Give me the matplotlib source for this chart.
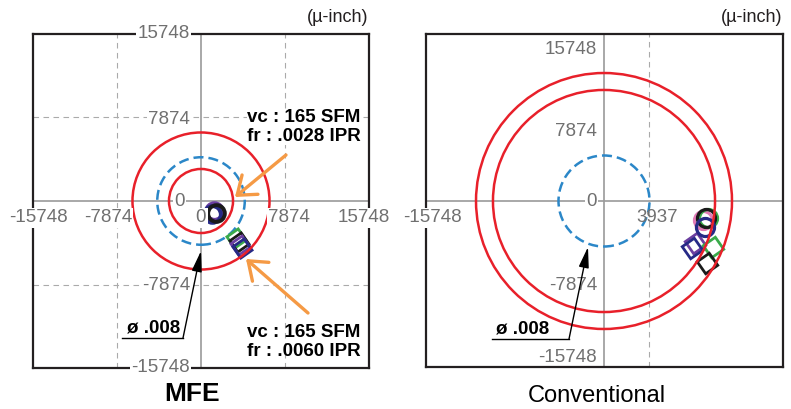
import matplotlib
matplotlib.use("Agg")
import matplotlib.pyplot as plt
from matplotlib.patches import Circle

plt.rcParams['font.family'] = ['Liberation Sans', 'DejaVu Sans']

W, H = 791, 409

# ---- data (micro-inch) ----
mfe_tol_r = 4100
mfe_red_r = [3000, 6420]
mfe_ring_x = [1218, 1031, 1406]
mfe_ring_y = [-937, -1218, -1124]
mfe_ring_c = ['#6b3fa0', '#262a86', '#1a1a1a']
mfe_sq_x = [3280, 3561, 3654, 3842]
mfe_sq_y = [-3467, -3842, -4123, -4404]
mfe_sq_c = ['#3aaa4a', '#1a1a1a', '#6b3fa0', '#262a86']
mfe_ticks = ['-15748', '-7874', '0', '7874', '15748']
mfe_grid = [-7874, 7874]

conv_tol_r = 4000
conv_red_r = [9760, 11250]
conv_ring_x = [8702, 9142, 8966, 8878]
conv_ring_y = [-1670, -1494, -1494, -2285]
conv_ring_c = ['#e07ab5', '#3aaa4a', '#1a1a1a', '#262a86']
conv_sq_x = [7999, 7735, 9581, 9054]
conv_sq_y = [-3692, -4131, -4043, -5450]
conv_sq_c = ['#6b3fa0', '#262a86', '#3aaa4a', '#1a1a1a']
conv_yticks = ['15748', '7874', '0', '-7874', '-15748']
conv_xticks = ['-15748', '3937']
conv_grid = [3937]

RED = '#e8202a'
BLUE = '#2b87c8'
ORANGE = '#f59a45'
GRAY = '#707070'

fig = plt.figure(figsize=(W / 100, H / 100), dpi=100)


def make_ax(x0, y0, x1, y1, cx, cy, scale):
    ax = fig.add_axes([x0 / W, (H - y1) / H, (x1 - x0) / W, (y1 - y0) / H])
    ax.set_xlim((x0 - cx) * scale, (x1 - cx) * scale)
    ax.set_ylim((cy - y1) * scale, (cy - y0) * scale)
    ax.set_xticks([])
    ax.set_yticks([])
    for s in ax.spines.values():
        s.set_linewidth(1.6)
        s.set_color('#231f20')
        s.set_zorder(1)
    ax.axhline(0, color='#9a9a9a', lw=1.2, zorder=0.5)
    ax.axvline(0, color='#9a9a9a', lw=1.2, zorder=0.5)
    px = lambda x, y: ((x - cx) * scale, (cy - y) * scale)
    return ax, px


def draw_circles(ax, red_r, tol_r):
    for r in red_r:
        ax.add_patch(Circle((0, 0), r, fill=False, ec=RED, lw=1.8, zorder=4))
    ax.add_patch(Circle((0, 0), tol_r, fill=False, ec=BLUE, lw=1.8,
                        ls=(0, (4, 2)), zorder=2))


def draw_markers(ax, rx, ry, rc, sx, sy, sc, ms_ring, ms_sq, mew_ring):
    for x, y, c in zip(sx, sy, sc):
        ax.plot(x, y, marker=(4, 0, 80), ms=ms_sq, mfc='none', mec=c, mew=2.0, zorder=3)
    for x, y, c in zip(rx, ry, rc):
        ax.plot(x, y, marker='o', ms=ms_ring, mfc='none', mec=c, mew=mew_ring, zorder=3)


def tick(ax, pos, s, ha='center', bg=True):
    kw = dict(bbox=dict(fc='white', ec='none', pad=1)) if bg else {}
    ax.text(*pos, s, ha=ha, va='center', fontsize=13.5, color=GRAY,
            clip_on=False, zorder=5, **kw)


def diam_arrow(ax, px, x0, x1, y, tip, tx):
    a = px(x0, y)
    b = px(x1, y)
    ax.plot([a[0], b[0]], [a[1], b[1]], color='black', lw=1, zorder=6, clip_on=False)
    ax.annotate('', xy=px(*tip), xytext=b,
                arrowprops=dict(arrowstyle='-|>,head_length=0.9,head_width=0.22',
                                color='black', lw=1, shrinkA=0, shrinkB=0,
                                mutation_scale=14), zorder=6)
    ax.text(*px(tx, y - 10), 'ø .008', ha='left', va='center', fontsize=13.5,
            fontweight='bold', zorder=6)


# ---- MFE ----
ax1, p1 = make_ax(33, 34, 369, 368, 201, 201, 93.7)
for g in mfe_grid:
    ax1.axvline(g, color='#aaaaaa', lw=0.8, ls=(0, (5, 4)), zorder=0.4)
    ax1.axhline(g, color='#aaaaaa', lw=0.8, ls=(0, (5, 4)), zorder=0.4)
draw_circles(ax1, mfe_red_r, mfe_tol_r)
draw_markers(ax1, mfe_ring_x, mfe_ring_y, mfe_ring_c,
             mfe_sq_x, mfe_sq_y, mfe_sq_c, 12, 14, 2.8)

for s, x in zip(mfe_ticks, [38, 108, 201, 289, 364]):
    tick(ax1, p1(x, 218), s)
for s, y in zip(mfe_ticks[::-1], [34, 119, 201, 286, 368]):
    tick(ax1, p1(190 if s != '0' else 185, y), s, ha='right')

ax1.text(*p1(247, 127), 'vc : 165 SFM\nfr : .0028 IPR', ha='left', va='center',
         fontsize=13.5, fontweight='bold', zorder=6,
         bbox=dict(fc='white', ec='none', pad=0))
ax1.text(*p1(247, 342), 'vc : 165 SFM\nfr : .0060 IPR', ha='left', va='center',
         fontsize=13.5, fontweight='bold', zorder=6)
for tail, tip in [((286, 155), (235, 197)), ((308, 313), (246, 259))]:
    ax1.annotate('', xy=p1(*tip), xytext=p1(*tail),
                 arrowprops=dict(arrowstyle='->,head_length=0.6,head_width=0.45',
                                 color=ORANGE, lw=2.4, shrinkA=0, shrinkB=0,
                                 mutation_scale=20), zorder=6)
diam_arrow(ax1, p1, 122, 183, 338, (201, 251), 127)

# ---- Conventional ----
ax2, p2 = make_ax(426, 34, 783, 367, 604, 201, 87.9)
for g in conv_grid:
    ax2.axvline(g, color='#aaaaaa', lw=0.8, ls=(0, (5, 4)), zorder=0.4)
draw_circles(ax2, conv_red_r, conv_tol_r)
draw_markers(ax2, conv_ring_x, conv_ring_y, conv_ring_c,
             conv_sq_x, conv_sq_y, conv_sq_c, 13, 15, 2.3)

for s, y in zip(conv_yticks, [49, 132, 202, 286, 357]):
    tick(ax2, p2(597, y), s, ha='right', bg=(s == '0'))
tick(ax2, p2(432, 218), conv_xticks[0])
tick(ax2, p2(657, 218), conv_xticks[1], bg=False)
diam_arrow(ax2, p2, 492, 569, 339, (588, 247), 496)

# ---- titles / units ----
fig.text(192 / W, 1 - 394 / H, 'MFE', ha='center', va='center', fontsize=19,
         fontweight='bold')
fig.text(597 / W, 1 - 396 / H, 'Conventional', ha='center', va='center', fontsize=17)
fig.text(368 / W, 1 - 17 / H, '(µ-inch)', ha='right', va='center', fontsize=13,
         color='#231f20')
fig.text(782 / W, 1 - 18 / H, '(µ-inch)', ha='right', va='center', fontsize=13,
         color='#231f20')

fig.savefig('out.png', dpi=100)
